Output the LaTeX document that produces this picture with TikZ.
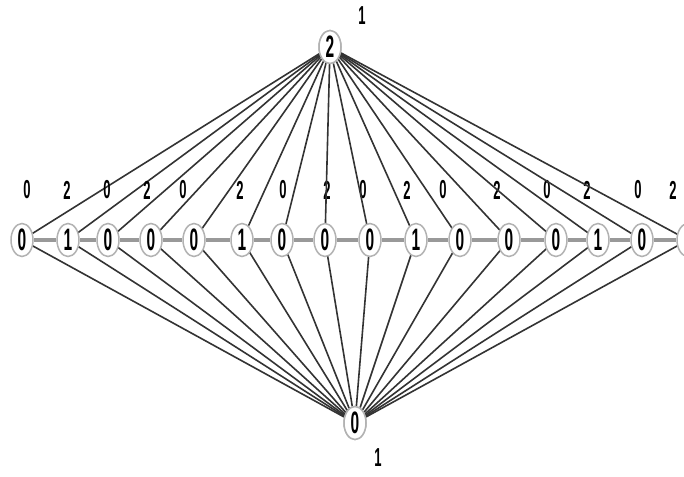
\documentclass[tikz,border=0pt]{standalone}
\usepackage{fontspec}
\setmainfont{Liberation Sans}
\usepackage{graphicx}
\usetikzlibrary{shapes.geometric}

\newcommand{\nardigit}[1]{\scalebox{0.5}[1]{#1}}
\tikzset{
  vert/.style={ellipse, draw=gray!60, line width=1.5pt, inner sep=0pt,
    minimum width=22pt, minimum height=33pt, fill=white,
    font=\fontsize{31}{31}\selectfont\bfseries},
  tag/.style={inner sep=0pt, font=\fontsize{26}{26}\selectfont\bfseries},
  spoke/.style={black!80, line width=1.6pt},
  link/.style={gray!80, line width=4pt}
}

\begin{document}
\begin{tikzpicture}[x=1pt, y=-1pt]
    \useasboundingbox (0,0) rectangle (684,476);
    \clip (0,0) rectangle (684,476);

    % top and bottom vertices
    \node[vert] (top) at (330,47) {\nardigit{2}};
    \node[tag] (toplab) at (362,16) {\nardigit{1}};
    \node[vert] (bot) at (355,423) {\nardigit{0}};
    \node[tag] (botlab) at (378,458) {\nardigit{1}};

    % middle row
    \foreach [count=\i] \x/\v/\lx/\lv in {22/0/27/0, 68/1/67/2, 108/0/107/0,
        151/0/147/2, 194/0/183/0, 242/1/240/2, 282/0/283/0, 325/0/327/2,
        370/0/363/0, 416/1/407/2, 460/0/443/0, 509/0/497/2, 556/0/547/0,
        598/1/587/2, 642/0/638/0, 688/0/673/2} {
        \node[tag] (l\i) at (\lx,190) {\nardigit{\lv}};
        \draw[spoke] (top) -- (\x,240);
        \draw[spoke] (bot) -- (\x,240);
        \node[vert] (r\i) at (\x,240) {\nardigit{\v}};
    }
    \foreach \i [evaluate=\i as \j using int(\i+1)] in {1,...,15}
        \draw[link] (r\i) -- (r\j);
    \node[vert] at (top) {\nardigit{2}};
    \node[vert] at (bot) {\nardigit{0}};
\end{tikzpicture}
\end{document}
